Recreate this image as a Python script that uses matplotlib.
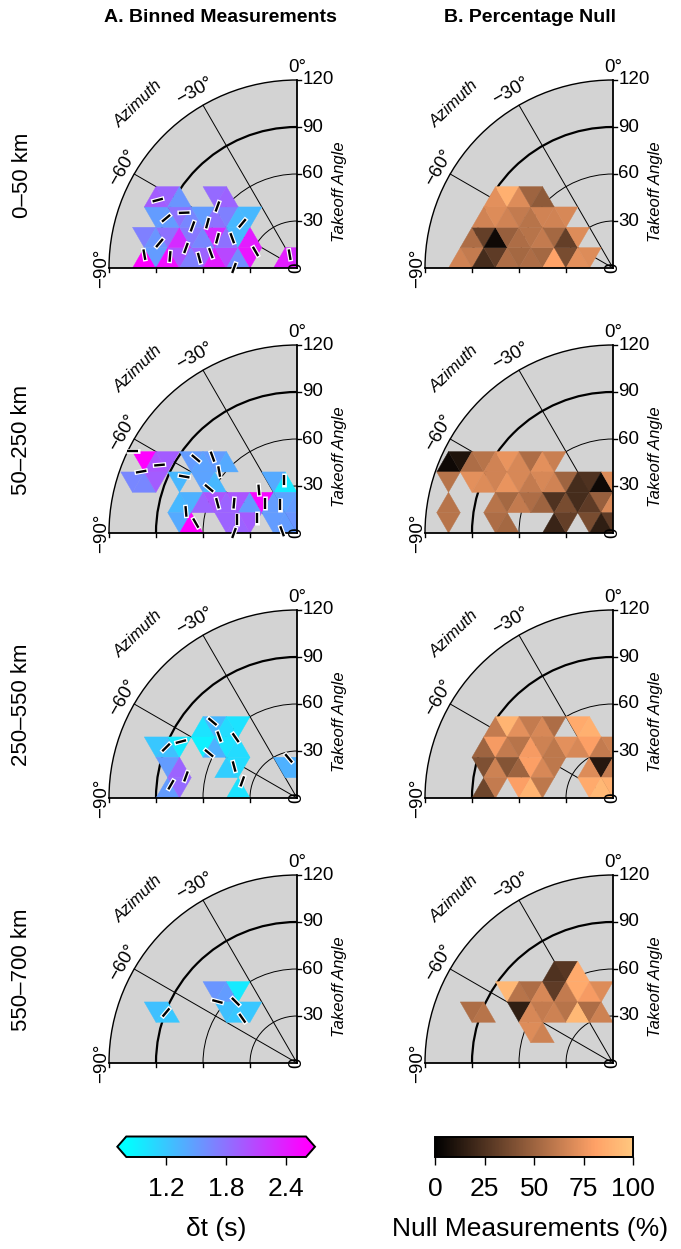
import numpy as np
import matplotlib
matplotlib.use('Agg')
import matplotlib.pyplot as plt
from matplotlib.collections import PolyCollection
from matplotlib.patches import Wedge, Arc
from matplotlib.cm import ScalarMappable
from matplotlib.colors import Normalize
from matplotlib import font_manager

plt.rcParams['font.family'] = ['Liberation Sans', 'DejaVu Sans']

# ---- data -------------------------------------------------------------
depth_labels = ['0\u201350 km', '50\u2013250 km', '250\u2013550 km', '550\u2013700 km']

# triangular bins: (column k, row j, value); bins are equilateral, side 15 deg of takeoff
dt_0_50 = [(12, 0, 2.7), (11, 0, 1.5), (10, 0, 2.5), (9, 0, 2.0), (8, 0, 1.7), (7, 0, 1.9),
           (6, 0, 2.4), (5, 0, 2.1), (4, 0, 1.6), (3, 0, 2.45), (0, 0, 2.4), (-1, 0, 2.3),
           (12, 1, 1.7), (11, 1, 1.55), (10, 1, 1.8), (9, 1, 2.3), (8, 1, 1.75), (7, 1, 1.65),
           (6, 1, 2.3), (5, 1, 1.8), (4, 1, 1.3), (3, 1, 2.4),
           (11, 2, 1.5), (10, 2, 1.5), (9, 2, 1.8), (8, 2, 1.65), (7, 2, 1.5), (6, 2, 1.8),
           (5, 2, 1.7), (4, 2, 1.3), (3, 2, 1.3),
           (11, 3, 1.95), (10, 3, 1.9), (9, 3, 1.55), (6, 3, 1.85), (5, 3, 1.9)]
dt_50_250 = [(12, 3, 2.65), (11, 3, 2.0), (10, 3, 1.95), (13, 2, 1.65), (12, 2, 1.65), (11, 2, 1.95),
             (8, 3, 1.5), (7, 3, 1.45), (6, 3, 1.5), (5, 3, 1.4),
             (9, 2, 1.3), (7, 2, 1.45), (6, 2, 1.3), (0, 2, 0.95), (1, 2, 1.4),
             (9, 1, 1.3), (8, 1, 1.35), (7, 1, 1.9), (6, 1, 2.0), (5, 1, 1.9), (4, 1, 2.0),
             (3, 1, 1.5), (2, 1, 2.55), (1, 1, 1.5), (0, 1, 1.45), (-1, 1, 1.5),
             (9, 0, 1.4), (8, 0, 2.6), (5, 0, 1.9), (4, 0, 1.9), (3, 0, 1.95),
             (1, 0, 1.5), (0, 0, 1.5), (-1, 0, 1.55)]
dt_250_550 = [(7, 3, 1.0), (6, 3, 1.3), (5, 3, 1.05), (4, 3, 1.0),
              (7, 2, 0.9), (6, 2, 1.35), (5, 2, 1.0), (4, 2, 1.05),
              (5, 1, 1.15), (4, 1, 1.05), (4, 0, 1.0),
              (11, 2, 1.2), (10, 2, 1.25), (9, 2, 0.95),
              (10, 1, 1.5), (9, 1, 1.9), (10, 0, 1.5), (9, 0, 1.85),
              (0, 1, 1.35), (-1, 1, 1.35)]
dt_550_700 = [(11, 2, 1.25), (10, 2, 1.2), (6, 3, 1.55), (5, 3, 1.5), (4, 3, 0.95),
              (5, 2, 1.25), (4, 2, 1.2), (3, 2, 1.2)]

null_0_50 = [(12, 0, 66), (11, 0, 62), (10, 0, 22), (9, 0, 30), (8, 0, 55), (7, 0, 52),
             (6, 0, 55), (5, 0, 52), (4, 0, 82), (3, 0, 38), (2, 0, 72), (1, 0, 70),
             (11, 1, 55), (10, 1, 32), (9, 1, 5), (8, 1, 48), (7, 1, 55), (6, 1, 58),
             (5, 1, 62), (4, 1, 52), (3, 1, 32), (2, 1, 70),
             (10, 2, 66), (9, 2, 70), (8, 2, 66), (7, 2, 62), (6, 2, 58), (5, 2, 66),
             (4, 2, 66), (3, 2, 68),
             (9, 3, 72), (8, 3, 88), (7, 3, 70), (6, 3, 50), (5, 3, 45)]
null_50_250 = [(13, 3, 5), (12, 3, 10), (11, 3, 55), (10, 3, 58), (9, 3, 66), (8, 3, 74),
               (7, 3, 68), (6, 3, 55), (5, 3, 72), (4, 3, 64),
               (13, 2, 58), (11, 2, 72), (10, 2, 70), (9, 2, 66), (8, 2, 74), (7, 2, 68),
               (6, 2, 62), (5, 2, 68), (4, 2, 66), (3, 2, 50), (2, 2, 22), (1, 2, 25),
               (0, 2, 5), (-1, 2, 70),
               (13, 1, 58), (9, 1, 58), (8, 1, 52), (7, 1, 62), (6, 1, 55), (5, 1, 50),
               (4, 1, 25), (3, 1, 38), (2, 1, 22), (1, 1, 30), (0, 1, 48), (-1, 1, 68),
               (13, 0, 58), (9, 0, 55), (8, 0, 52), (4, 0, 18), (3, 0, 32), (1, 0, 38),
               (0, 0, 15), (-1, 0, 30)]
null_250_550 = [(9, 3, 62), (8, 3, 90), (7, 3, 72), (6, 3, 62), (5, 3, 68), (4, 3, 55),
                (2, 3, 85), (1, 3, 88),
                (10, 2, 50), (9, 2, 78), (8, 2, 62), (7, 2, 58), (6, 2, 78), (5, 2, 65),
                (4, 2, 60), (3, 2, 72), (2, 2, 68), (1, 2, 80), (0, 2, 62), (-1, 2, 65),
                (10, 1, 40), (9, 1, 65), (8, 1, 42), (7, 1, 50), (6, 1, 80), (5, 1, 68),
                (4, 1, 60), (1, 1, 70), (0, 1, 12), (-1, 1, 62),
                (10, 0, 35), (9, 0, 62), (7, 0, 80), (6, 0, 90), (5, 0, 60), (1, 0, 85),
                (0, 0, 92), (-1, 0, 88)]
null_550_700 = [(11, 2, 55), (10, 2, 58), (8, 3, 92),
                (4, 4, 25), (3, 4, 28), (2, 4, 85),
                (7, 3, 58), (6, 3, 55), (5, 3, 68), (4, 3, 30), (3, 3, 62), (2, 3, 85),
                (1, 3, 78), (0, 3, 70),
                (7, 2, 15), (6, 2, 68), (5, 2, 62), (4, 2, 65), (3, 2, 58), (2, 2, 92),
                (1, 2, 55), (0, 2, 65),
                (6, 1, 70), (5, 1, 65)]

# splitting bars: (azimuth deg, takeoff deg, fast direction deg clockwise from up)
bars_0_50 = [(-64.0, 98.9, 75), (-69.2, 89.4, 50), (-63.9, 80.2, 88), (-68.3, 71.8, 20),
             (-63.4, 63.9, 15), (-52.3, 64.2, 20), (-69.5, 54.2, 15), (-65.3, 45.5, -20),
             (-50.7, 45.1, 40), (-68.2, 28.5, -30), (-28.9, 9.7, -10), (-85.0, 97.8, -10),
             (-79.7, 89.2, 40), (-84.8, 81.4, 5), (-79.8, 72.0, 20), (-84.2, 62.7, -15),
             (-80.2, 55.8, -20), (-90.0, 40.2, 20)]
bars_50_250 = [(-63.4, 117.2, 90), (-63.7, 97.9, 85), (-68.5, 106.9, 80), (-53.6, 80.2, -50),
               (-47.9, 72.7, -20), (-51.7, 63.3, -10), (-63.4, 80.5, -80), (-63.0, 63.0, -50),
               (-69.5, 54.2, -15), (-64.7, 44.5, 5), (-41.5, 36.7, -5), (-46.6, 27.7, 0),
               (-30.5, 20.9, 0), (-14.1, 34.9, 0), (-79.0, 72.2, -5), (-84.4, 64.9, -30),
               (-77.4, 39.0, 0), (-69.5, 27.1, 0), (-90.0, 40.2, 20), (-83.4, 9.6, -20)]
bars_250_550 = [(-68.9, 89.6, 45), (-64.1, 82.4, 75), (-84.0, 80.9, 30), (-79.0, 72.2, 20),
                (-47.9, 72.7, -50), (-51.7, 63.3, -20), (-45.5, 54.9, -35), (-63.0, 63.0, -50),
                (-63.4, 44.9, -15), (-73.1, 36.5, 20), (-11.8, 25.9, -40)]
bars_550_700 = [(-68.9, 89.6, 40), (-52.3, 64.2, -75), (-45.0, 55.4, -45), (-50.7, 45.1, -35)]

dt_cells = [dt_0_50, dt_50_250, dt_250_550, dt_550_700]
null_cells = [null_0_50, null_50_250, null_250_550, null_550_700]
bar_sets = [bars_0_50, bars_50_250, bars_250_550, bars_550_700]

dt_ticks = [1.2, 1.8, 2.4]
null_ticks = [0, 25, 50, 75, 100]
rings = [30, 60, 90, 120]
spokes = [-30, -60]

# ---- layout ------------------------------------------------------------
W, H = 681, 1249
R_PX = 188.0
A_X, B_X = 297.0, 613.0
ROW_Y = [268, 533, 798, 1063]
S = 15.0
HT = S * np.sqrt(3) / 2
BAR_HALF = 3.4

dt_norm = Normalize(0.8, 2.6)
null_norm = Normalize(0, 100)

fig = plt.figure(figsize=(W / 100, H / 100), dpi=100)


def cell(k, j):
    cx = -(k + 1) * S / 2
    y0 = j * HT
    if (k + j) % 2 == 0:
        return [(cx - S / 2, y0), (cx + S / 2, y0), (cx, y0 + HT)]
    return [(cx - S / 2, y0 + HT), (cx + S / 2, y0 + HT), (cx, y0)]


def polar_xy(az, r):
    a = np.radians(az)
    return r * np.sin(a), r * np.cos(a)


def add_panel(px, py, cells, cmap, norm, bars=None):
    ax = fig.add_axes([(px - R_PX) / W, (H - py) / H, R_PX / W, R_PX / H])
    ax.set_xlim(-120, 0)
    ax.set_ylim(0, 120)
    ax.axis('off')
    ax.add_patch(Wedge((0, 0), 120, 90, 180, fc='#d3d3d3', ec='none', zorder=0))
    for r in rings:
        lw = {90: 1.6, 120: 1.0}.get(r, 0.7)
        ax.add_patch(Arc((0, 0), 2 * r, 2 * r, theta1=90, theta2=180, lw=lw,
                         color='black', zorder=1, clip_on=False))
    for a in spokes:
        x, y = polar_xy(a, 120)
        ax.plot([0, x], [0, y], color='black', lw=0.7, zorder=1, clip_on=False)

    polys = [cell(k, j) for k, j, v in cells]
    vals = [v for k, j, v in cells]
    pc = PolyCollection(polys, array=np.array(vals, float), cmap=cmap, norm=norm,
                        edgecolors='face', linewidths=0.3, zorder=2)
    ax.add_collection(pc)

    ax.plot([-120, 0], [0, 0], color='black', lw=1.3, zorder=3, clip_on=False)
    ax.plot([0, 0], [0, 120], color='black', lw=1.3, zorder=3, clip_on=False)
    for r in rings:
        ax.plot([0, 2.6], [r, r], color='black', lw=1.0, clip_on=False, zorder=3)
        ax.plot([-r, -r], [0, -2.6], color='black', lw=1.0, clip_on=False, zorder=3)
        ax.text(3.3, r, str(r), ha='left', va='center', fontsize=13.5, clip_on=False)

    for az, lab, rr in [(0, '0\u00b0', 128), (-30, '\u221230\u00b0', 130),
                        (-60, '\u221260\u00b0', 128), (-90, '\u221290\u00b0', 125)]:
        x, y = polar_xy(az, rr)
        ax.text(x, y, lab, rotation=-az, rotation_mode='anchor', ha='center', va='center',
                fontsize=13.5, clip_on=False)
    ax.text(0, 0, '0', rotation=90, ha='center', va='center', fontsize=13.5, zorder=4)
    x, y = polar_xy(-44, 146)
    ax.text(x, y, 'Azimuth', rotation=44, rotation_mode='anchor', ha='center', va='center',
            fontsize=12, style='italic', clip_on=False)
    ax.text(27, 49, 'Takeoff Angle', rotation=90, ha='center', va='center',
            fontsize=12, style='italic', clip_on=False)

    if bars:
        for az, toa, phi in bars:
            cx, cy = polar_xy(az, toa)
            p = np.radians(phi)
            for half, col, lw, z in [(BAR_HALF + 0.9, 'white', 3.4, 5), (BAR_HALF, 'black', 1.7, 6)]:
                dx, dy = half * np.sin(p), half * np.cos(p)
                ax.plot([cx - dx, cx + dx], [cy - dy, cy + dy], color=col, lw=lw,
                        solid_capstyle='butt', clip_on=False, zorder=z)
    return ax


for i, py in enumerate(ROW_Y):
    add_panel(A_X, py, dt_cells[i], 'cool', dt_norm, bar_sets[i])
    add_panel(B_X, py, null_cells[i], 'copper', null_norm)
    fig.text(22 / W, 1 - (py - 93) / H, depth_labels[i], rotation=90,
             ha='center', va='center', fontsize=16)

# titles (condensed bold if a narrow face is installed)
names = {f.name for f in font_manager.fontManager.ttflist}
narrow = [n for n in ('Liberation Sans Narrow', 'Nimbus Sans Narrow', 'Arial Narrow') if n in names]
if narrow:
    tfont = dict(family=narrow[0], fontsize=15.5, fontweight='bold')
else:
    tfont = dict(fontsize=14, fontweight='bold')
fig.text(220 / W, 1 - 18 / H, 'A. Binned Measurements', ha='center', va='center', **tfont)
fig.text(530 / W, 1 - 18 / H, 'B. Percentage Null', ha='center', va='center', **tfont)

# colorbars
cax_a = fig.add_axes([117.3 / W, (H - 1157) / H, 197.7 / W, 20.5 / H])
cb_a = fig.colorbar(ScalarMappable(norm=dt_norm, cmap='cool'), cax=cax_a,
                    orientation='horizontal', extend='both', ticks=dt_ticks)
cax_b = fig.add_axes([435 / W, (H - 1157) / H, 198.3 / W, 20.5 / H])
cb_b = fig.colorbar(ScalarMappable(norm=null_norm, cmap='copper'), cax=cax_b,
                    orientation='horizontal', ticks=null_ticks)
for cb in (cb_a, cb_b):
    cb.outline.set_linewidth(1.4)
    cb.ax.tick_params(axis='x', length=5.5, width=1.0, labelsize=19, pad=9)
cb_a.ax.set_xticklabels([f'{t:.1f}' for t in dt_ticks])
fig.text(216 / W, 1 - 1229 / H, '\u03b4t (s)', ha='center', va='center', fontsize=19)
fig.text(530 / W, 1 - 1229 / H, 'Null Measurements (%)', ha='center', va='center', fontsize=19)

fig.savefig('out.png', dpi=100)
